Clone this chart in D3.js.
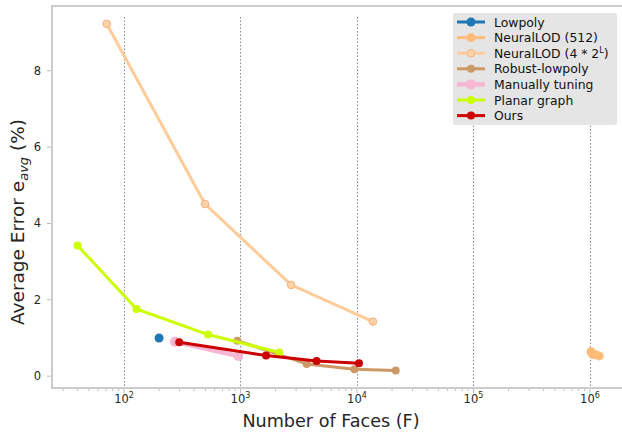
<!DOCTYPE html>
<html>
<head>
<meta charset="utf-8">
<script src="https://cdn.jsdelivr.net/npm/d3@7"></script>
<style>
  body { margin: 0; background: #fff; }
  text { font-family: "DejaVu Sans", sans-serif; }
</style>
</head>
<body>
<div id="chart-area"></div>
<script>
// Series data: [faces, error %]
const lowpoly = [[200, 1.0]]
const neuralLOD512 = [[1.02e6, 0.64], [1.05e6, 0.57], [1.12e6, 0.56], [1.2e6, 0.53]]
const neuralLOD42L = [[71, 9.23], [496, 4.51], [2720, 2.39], [13700, 1.43]]
const robustLowpoly = [[940, 0.93], [3700, 0.32], [9500, 0.18], [21500, 0.15]]
const manualTuning = [[274, 0.90], [957, 0.53]]
const planarGraph = [[40, 3.42], [128, 1.76], [526, 1.09], [2150, 0.62]]
const ours = [[298, 0.89], [1660, 0.54], [4500, 0.40], [10400, 0.34]]

const xTicks = [2, 3, 4, 5, 6]           // exponents of 10
const yTicks = [0, 2, 4, 6, 8]

const series = [
    {name: "Lowpoly", data: lowpoly, color: "#1f77b4", fill: "#1f77b4", w: 3, r: 4.5},
    {name: "NeuralLOD (512)", data: neuralLOD512, color: "#ffbb78", fill: "#ffbb78", w: 3, r: 4.5},
    {name: "NeuralLOD (4 * 2", sup: "L", data: neuralLOD42L, color: "#ffcc99", fill: "#ffd2aa", edge: "#f5b07c", w: 3, r: 3.8},
    {name: "Robust-lowpoly", data: robustLowpoly, color: "#cc9966", fill: "#cc9966", w: 3, r: 4},
    {name: "Manually tuning", data: manualTuning, color: "#f7b6d2", fill: "#f7b6d2", w: 4.5, r: 5},
    {name: "Planar graph", data: planarGraph, color: "#ccff00", fill: "#ccff00", w: 3, r: 4},
    {name: "Ours", data: ours, color: "#cc0000", fill: "#cc0000", w: 3, r: 4}
]

const W = 622, H = 434
const mLeft = 52, mRight = 620, mTop = 7, mBottom = 388

const svg = d3.select("#chart-area").append("svg")
    .attr("width", W)
    .attr("height", H)

const x = d3.scaleLog().domain([24.1, 1.81e6]).range([mLeft, mRight])
const y = d3.scaleLinear().domain([-0.31, 9.67]).range([mBottom, mTop])

// Vertical dotted grid at decades
svg.append("g").selectAll("line")
    .data(xTicks)
    .join("line")
    .attr("x1", d => Math.round(x(Math.pow(10, d))) + 0.5)
    .attr("x2", d => Math.round(x(Math.pow(10, d))) + 0.5)
    .attr("y1", 17)
    .attr("y2", mBottom + 1)
    .attr("stroke", "#888")
    .attr("stroke-width", 1)
    .attr("stroke-dasharray", "1.5,2")

// Spines
svg.append("line").attr("x1", mLeft).attr("x2", W).attr("y1", mTop - 1).attr("y2", mTop - 1)
    .attr("stroke", "#cccccc").attr("stroke-width", 2)
svg.append("line").attr("x1", mLeft).attr("x2", mLeft).attr("y1", mTop - 2).attr("y2", mBottom + 1)
    .attr("stroke", "#cccccc").attr("stroke-width", 2)
svg.append("line").attr("x1", mLeft - 1).attr("x2", W).attr("y1", mBottom).attr("y2", mBottom)
    .attr("stroke", "#cccccc").attr("stroke-width", 2)

// X axis: minor ticks
const minor = []
for (let e = 1; e <= 6; e++) {
    for (let m = 1; m <= 9; m++) {
        const v = m * Math.pow(10, e)
        if (v >= x.domain()[0] && v <= x.domain()[1]) minor.push({v, major: m === 1})
    }
}
svg.append("g").selectAll("line")
    .data(minor)
    .join("line")
    .attr("x1", d => x(d.v))
    .attr("x2", d => x(d.v))
    .attr("y1", mBottom + 1)
    .attr("y2", d => d.major ? mBottom + 5 : mBottom + 3)
    .attr("stroke", "#bbbbbb")
    .attr("stroke-width", 1)

const xLab = svg.append("g").selectAll("text")
    .data(xTicks)
    .join("text")
    .attr("x", d => x(Math.pow(10, d)))
    .attr("y", 403)
    .attr("text-anchor", "middle")
    .attr("font-size", "11.5px")
    .attr("fill", "#262626")
xLab.append("tspan").text("10")
xLab.append("tspan").attr("dy", -5).attr("font-size", "8px").text(d => d)

// Y axis ticks
svg.append("g").selectAll("line")
    .data(yTicks)
    .join("line")
    .attr("x1", mLeft - 5)
    .attr("x2", mLeft - 1)
    .attr("y1", d => y(d))
    .attr("y2", d => y(d))
    .attr("stroke", "#bbbbbb")
svg.append("g").selectAll("text")
    .data(yTicks)
    .join("text")
    .attr("x", 41)
    .attr("y", d => y(d) + 4)
    .attr("text-anchor", "end")
    .attr("font-size", "11.5px")
    .attr("fill", "#262626")
    .text(d => d)

// Axis titles
svg.append("text")
    .attr("x", 331)
    .attr("y", 427)
    .attr("text-anchor", "middle")
    .attr("font-family", "Liberation Sans, Arial, sans-serif")
    .attr("font-size", "17.6px")
    .attr("fill", "#262626")
    .text("Number of Faces (F)")

const yTitle = svg.append("text")
    .attr("transform", "translate(24, 222) rotate(-90)")
    .attr("text-anchor", "middle")
    .attr("font-family", "Liberation Sans, Arial, sans-serif")
    .attr("font-size", "18.5px")
    .attr("fill", "#262626")
yTitle.append("tspan").text("Average Error e")
yTitle.append("tspan").attr("dy", 4).attr("font-size", "13px").attr("font-style", "italic").text("avg")
yTitle.append("tspan").attr("dy", -4).text(" (%)")

// Lines and markers
const line = d3.line()
    .x(d => x(d[0]))
    .y(d => y(d[1]))

series.forEach(s => {
    const g = svg.append("g")
    if (s.data.length > 1) {
        g.append("path")
            .attr("d", line(s.data))
            .attr("fill", "none")
            .attr("stroke", s.color)
            .attr("stroke-width", s.w)
            .attr("stroke-linejoin", "round")
    }
    g.selectAll("circle")
        .data(s.data)
        .join("circle")
        .attr("cx", d => x(d[0]))
        .attr("cy", d => y(d[1]))
        .attr("r", s.r)
        .attr("fill", s.fill)
        .attr("stroke", s.edge || "none")
        .attr("stroke-width", 1)
})

// Legend
const legend = svg.append("g").attr("transform", "translate(453, 13)")
legend.append("rect")
    .attr("width", 164)
    .attr("height", 112)
    .attr("rx", 2)
    .attr("fill", "#e5e5e5")

const item = legend.selectAll("g.item")
    .data(series)
    .join("g")
    .attr("class", "item")
    .attr("transform", (d, i) => `translate(0, ${9 + i * 15.6})`)
item.append("line")
    .attr("x1", 4).attr("x2", 32)
    .attr("stroke", d => d.color)
    .attr("stroke-width", d => d.w)
item.append("circle")
    .attr("cx", 18)
    .attr("r", d => d.r)
    .attr("fill", d => d.fill)
    .attr("stroke", d => d.edge || "none")
const lt = item.append("text")
    .attr("x", 41)
    .attr("y", 4.5)
    .attr("font-size", "12.4px")
    .attr("fill", "#111")
lt.append("tspan").text(d => d.name)
lt.filter(d => d.sup).append("tspan").attr("dy", -5).attr("font-size", "8px").text(d => d.sup)
lt.filter(d => d.sup).append("tspan").attr("dy", 5).text(")")
</script>
</body>
</html>
